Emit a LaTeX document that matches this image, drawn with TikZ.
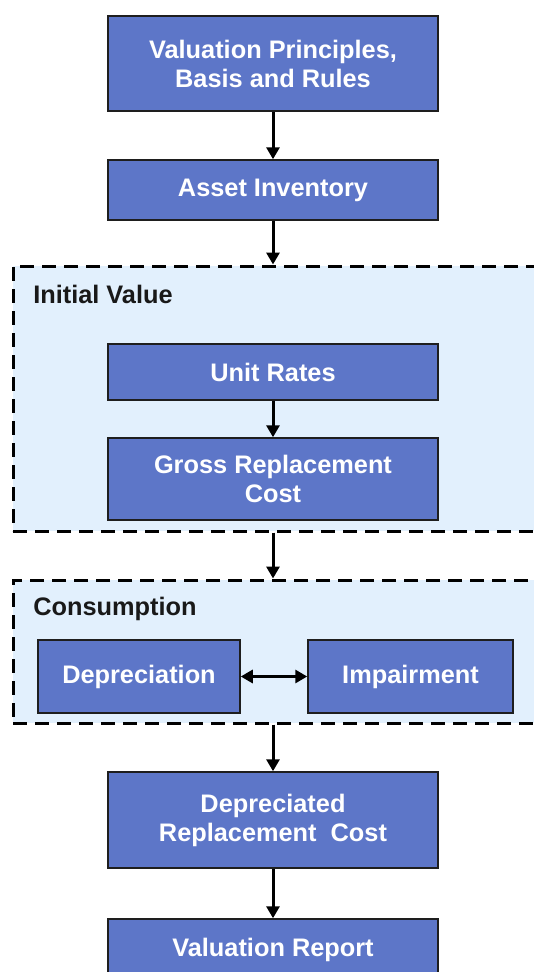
\documentclass[tikz,border=0pt]{standalone}
\usepackage{fontspec}
\setmainfont{Liberation Sans}
\usetikzlibrary{arrows.meta}
\newlength\pxu
\setlength\pxu{0.75pt}
\definecolor{boxblue}{RGB}{93,118,200}
\definecolor{grpblue}{RGB}{226,240,253}
\definecolor{edgegray}{RGB}{30,30,30}
\tikzset{
  stepbox/.style={draw=edgegray, line width=1.5\pxu, fill=boxblue, text=white,
    font=\bfseries\fontsize{19}{21.75}\selectfont, align=center, inner sep=0pt},
  grpbox/.style={draw=black, line width=3\pxu, fill=grpblue, dash pattern=on 10.5pt off 6pt, inner sep=0pt},
  grplabel/.style={text=black!90, font=\bfseries\fontsize{19}{21.75}\selectfont, anchor=base west, inner sep=0pt},
  flow/.style={line width=2.25pt, -{Triangle[width=9.75pt,length=9pt]}},
  flowboth/.style={line width=2.25pt, {Triangle[width=9.75pt,length=9pt]}-{Triangle[width=9.75pt,length=9pt]}}
}
\begin{document}
\begin{tikzpicture}[x=0.75pt,y=-0.75pt]
\useasboundingbox (0,0) rectangle (534,972);
\clip (0,0) rectangle (534,972);
\fill[white] (0,0) rectangle (534,972);
% groups
\node[grpbox, minimum width=527\pxu, minimum height=265\pxu] (grp1) at (276.5,398.5) {};
\node[grpbox, minimum width=527\pxu, minimum height=143\pxu] (grp2) at (276.5,651.5) {};
\node[grplabel] (lbl1) at (33,303) {Initial Value};
\node[grplabel] (lbl2) at (33,615) {Consumption};
% boxes
\node[stepbox, minimum width=330\pxu, minimum height=95\pxu] (vpb) at (273,63.5) {Valuation Principles,\\Basis and Rules};
\node[stepbox, minimum width=330\pxu, minimum height=60\pxu] (ai) at (273,190) {Asset Inventory};
\node[stepbox, minimum width=330\pxu, minimum height=56\pxu] (ur) at (273,372) {Unit Rates};
\node[stepbox, minimum width=330\pxu, minimum height=82\pxu] (grc) at (273,479) {Gross Replacement\\Cost};
\node[stepbox, minimum width=202\pxu, minimum height=73\pxu] (dep) at (139,676.5) {Depreciation};
\node[stepbox, minimum width=205\pxu, minimum height=73\pxu] (imp) at (410.5,676.5) {Impairment};
\node[stepbox, minimum width=330\pxu, minimum height=96\pxu] (drc) at (273,820) {Depreciated\\Replacement\ \ Cost};
\node[stepbox, minimum width=330\pxu, minimum height=60\pxu] (vr) at (273,949) {};
\node[text=white, font=\bfseries\fontsize{19}{21.75}\selectfont, anchor=base, inner sep=0pt] (vrt) at (273,956) {Valuation Report};
% connectors
\draw[flow] (vpb.south) -- (ai.north);
\draw[flow] (ai.south) -- (ai.south |- grp1.north);
\draw[flow] (ur.south) -- (grc.north);
\draw[flow] (grc.south |- grp1.south) -- (grc.south |- grp2.north);
\draw[flowboth] (dep.east) -- (imp.west);
\draw[flow] (drc.north |- grp2.south) -- (drc.north);
\draw[flow] (drc.south) -- (vr.north);
\end{tikzpicture}
\end{document}
